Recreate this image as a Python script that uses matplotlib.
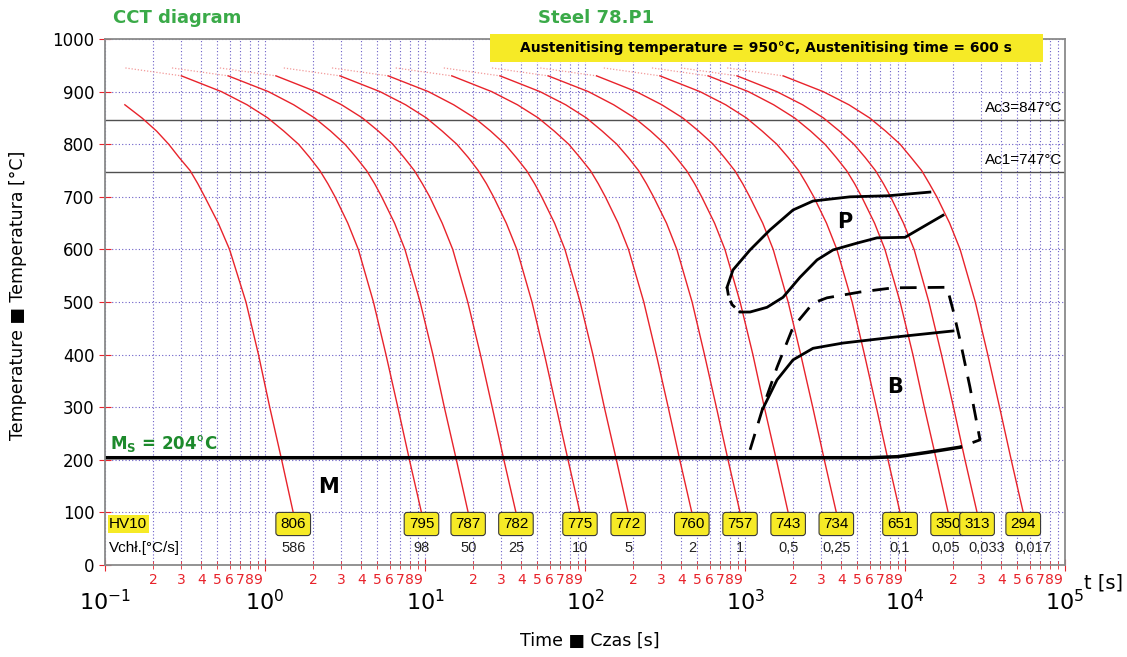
import numpy as np
import matplotlib.pyplot as plt
from matplotlib.ticker import FixedLocator, FuncFormatter, MultipleLocator
from matplotlib.patches import Rectangle

# temperature levels at which the cooling curves were read [°C]
temps = [945, 930, 900, 875, 850, 825, 800, 775, 750, 725, 700, 650, 600, 500, 400, 300, 200, 100]
nan = np.nan

# time [s] of each cooling curve at the temperature levels above
cooling_times = [
    [nan, nan, nan, 0.133, 0.17, 0.21, 0.25, 0.29, 0.34, 0.38, 0.42, 0.51, 0.60, 0.76, 0.91, 1.07, 1.27, 1.5],
    [0.134, 0.300, 0.534, 0.772, 1.04, 1.31, 1.62, 1.90, 2.20, 2.47, 2.74, 3.29, 3.83, 4.76, 5.70, 6.76, 7.99, 9.5],
    [0.262, 0.588, 1.05, 1.51, 2.04, 2.57, 3.16, 3.71, 4.31, 4.84, 5.36, 6.45, 7.49, 9.32, 11.2, 13.2, 15.7, 18.6],
    [0.522, 1.17, 2.08, 3.01, 4.06, 5.11, 6.29, 7.38, 8.57, 9.62, 10.7, 12.8, 14.9, 18.5, 22.2, 26.3, 31.1, 37],
    [1.31, 2.94, 5.23, 7.56, 10.2, 12.8, 15.8, 18.6, 21.5, 24.2, 26.8, 32.2, 37.5, 46.6, 55.8, 66.1, 78.3, 93],
    [2.62, 5.88, 10.5, 15.1, 20.4, 25.7, 31.6, 37.1, 43.1, 48.4, 53.6, 64.5, 74.9, 93.2, 112, 132, 157, 186],
    [6.56, 14.7, 26.1, 37.8, 51.0, 64.2, 79.1, 92.8, 108, 121, 134, 161, 187, 233, 279, 331, 391, 465],
    [13.1, 29.4, 52.3, 75.7, 102, 128, 158, 186, 216, 242, 268, 323, 375, 467, 558, 662, 783, 931],
    [26.2, 58.8, 105, 151, 204, 257, 316, 371, 431, 484, 536, 645, 749, 932, 1120, 1320, 1570, 1860],
    [52.5, 118, 209, 302, 408, 513, 632, 742, 862, 967, 1070, 1290, 1500, 1860, 2230, 2650, 3130, 3720],
    [131, 294, 523, 757, 1020, 1280, 1580, 1860, 2160, 2420, 2690, 3230, 3750, 4670, 5580, 6620, 7830, 9310],
    [262, 588, 1050, 1510, 2040, 2570, 3160, 3710, 4310, 4840, 5360, 6450, 7490, 9320, 11200, 13200, 15700, 18600],
    [398, 891, 1580, 2290, 3090, 3890, 4790, 5630, 6530, 7330, 8130, 9780, 11400, 14100, 16900, 20100, 23700, 28200],
    [773, 1730, 3080, 4460, 6010, 7560, 9320, 10900, 12700, 14200, 15800, 19000, 22100, 27500, 32900, 39000, 46100, 54800],
]
hardness = ['806', '795', '787', '782', '775', '772', '760', '757', '743', '734', '651', '350', '313', '294']
rates = ['586', '98', '50', '25', '10', '5', '2', '1', '0,5', '0,25', '0,1', '0,05', '0,033', '0,017']

# transformation lines
p_start_t = [772, 841, 1075, 1432, 1995, 2660, 4530, 7830, 14300]
p_start_T = [528, 561, 599, 637, 675, 692, 700, 702, 709]
p_nose_t = [772, 790, 830, 931]
p_nose_T = [528, 510, 495, 481]
p_end_t = [931, 1075, 1373, 1728, 2206, 2818, 3548, 5012, 6683, 10000, 17280]
p_end_T = [481, 481, 490, 509, 547, 580, 599, 612, 622, 623, 665]
b_start_t = [1075, 1296, 1585, 1995, 2661, 3254, 5236, 8414, 18300, 19950, 22060, 25470, 29430, 22060]
b_start_T = [219, 300, 376, 452, 498, 508, 519, 527, 528, 485, 428, 338, 238, 224]
b_mid_t = [1296, 1585, 1995, 2661, 4098, 8414, 19950]
b_mid_T = [298, 352, 390, 412, 422, 433, 445]
ms_t = [0.1, 6000, 9000, 13700, 22060]
ms_T = [204, 204, 206, 214, 224]

ac3 = 847
ac1 = 747

red = '#e8232b'
grid_c = '#6c5fc7'
yellow = '#f6ea26'
green = '#3aaa48'
narrow = 'Liberation Sans'

fig = plt.figure(figsize=(11.27, 6.57), dpi=100)
ax = fig.add_axes([0.0932, 0.140, 0.8518, 0.8006])
ax.set_xscale('log')
ax.set_xlim(0.1, 1e5)
ax.set_ylim(0, 1000)

# ticks and grid
major = [10.0 ** e for e in range(-1, 6)]
minor = [m * 10.0 ** e for e in range(-1, 5) for m in range(2, 10)]
ax.xaxis.set_major_locator(FixedLocator(major))
ax.xaxis.set_minor_locator(FixedLocator(minor))
ax.yaxis.set_major_locator(MultipleLocator(100))
ax.grid(which='both', axis='x', color=grid_c, linestyle=(0, (1, 2)), lw=0.8)
ax.grid(which='major', axis='y', color=grid_c, linestyle=(0, (1, 2)), lw=0.8)
ax.set_axisbelow(True)

for s in ax.spines.values():
    s.set_color('#8a8a8a')
    s.set_linewidth(1.3)

ax.xaxis.set_major_formatter(FuncFormatter(lambda v, p: r'$10^{%d}$' % round(np.log10(v))))
ax.xaxis.set_minor_formatter(FuncFormatter(lambda v, p: '%d' % round(v / 10 ** np.floor(np.log10(v) + 1e-9))))
ax.tick_params(axis='x', which='major', labelsize=16, pad=13, color=red, direction='inout', length=8)
ax.tick_params(axis='x', which='minor', labelsize=10, pad=3, colors=red, direction='inout', length=6)
ax.tick_params(axis='y', labelsize=12, color=red, direction='inout', length=8)

# Ac lines
ax.axhline(ac3, color='#505050', lw=1)
ax.axhline(ac1, color='#505050', lw=1)
ax.text(0.997, 868, 'Ac3=847°C', transform=ax.get_yaxis_transform(), ha='right', va='center', fontsize=11, family=narrow)
ax.text(0.997, 770, 'Ac1=747°C', transform=ax.get_yaxis_transform(), ha='right', va='center', fontsize=11, family=narrow)

# cooling curves
for times in cooling_times:
    ax.plot(times[:2], temps[:2], color='#f29a9a', lw=0.9, ls=(0, (1, 1.5)))
    ax.plot(times[1:], temps[1:], color=red, lw=1.0)

# transformation lines
ax.plot(p_start_t, p_start_T, color='black', lw=2)
ax.plot(p_nose_t, p_nose_T, color='black', lw=2, ls=(0, (3, 2)))
ax.plot(p_end_t, p_end_T, color='black', lw=2)
ax.plot(b_start_t, b_start_T, color='black', lw=2, ls=(0, (6, 4)))
ax.plot(b_mid_t, b_mid_T, color='black', lw=2)
ax.plot(ms_t, ms_T, color='black', lw=2.5)

ax.text(4217, 652, 'P', fontsize=15, fontweight='bold', ha='center', va='center')
ax.text(8660, 338, 'B', fontsize=15, fontweight='bold', ha='center', va='center')
ax.text(2.48, 148, 'M', fontsize=15, fontweight='bold', ha='center', va='center')
ax.text(0.107, 211, r'$\mathbf{M_S}$ = 204°C', color='#1d8a2c', fontsize=12, fontweight='bold', va='bottom')

# hardness and cooling rates (last two rate labels sit a little right of their curves)
nudge = {'0,05': -2, '0,033': 7, '0,017': 7}
for times, hv, r in zip(cooling_times, hardness, rates):
    ax.text(times[-1], 78, hv, ha='center', va='center', fontsize=11, family=narrow, zorder=5,
            bbox=dict(boxstyle='round,pad=0.3,rounding_size=0.2', fc=yellow, ec='#3a3a3a', lw=0.8))
    ax.annotate(r, (times[-1], 32), xytext=(nudge.get(r, 0), 0), textcoords='offset points',
                ha='center', va='center', fontsize=10.5, family=narrow, color='#222222')
ax.text(0.106, 78, 'HV10', ha='left', va='center', fontsize=11, family=narrow,
        bbox=dict(boxstyle='square,pad=0.1', fc=yellow, ec='none'))
ax.text(0.106, 32, 'Vchł.[°C/s]', ha='left', va='center', fontsize=11, family=narrow)

# figure texts
fig.text(0.1003, 0.9726, 'CCT diagram', color=green, fontsize=13, fontweight='bold', va='center')
fig.text(0.477, 0.9726, 'Steel 78.P1', color=green, fontsize=13, fontweight='bold', va='center')
fig.patches.append(Rectangle((0.4348, 0.9056), 0.4907, 0.0426, transform=fig.transFigure,
                             facecolor=yellow, edgecolor='none', zorder=3))
fig.text(0.6797, 0.927, 'Austenitising temperature = 950°C, Austenitising time = 600 s',
         fontsize=10, fontweight='bold', ha='center', va='center', zorder=4)
fig.text(0.016, 0.551, 'Temperature ■ Temperatura [°C]', rotation=90, fontsize=12.5, ha='center', va='center')
fig.text(0.5235, 0.0244, 'Time ■ Czas [s]', fontsize=12.5, ha='center', va='center')
fig.text(0.962, 0.113, 't [s]', fontsize=14, ha='left', va='center')

fig.savefig('out.png', dpi=100, facecolor='white')
